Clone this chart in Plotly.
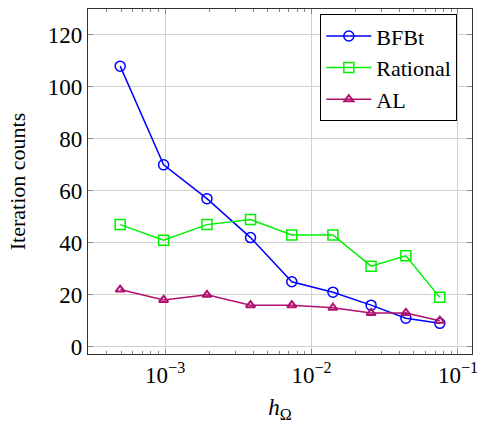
import plotly.graph_objects as go

h = [4.93e-4, 9.76e-4, 1.93e-3, 3.83e-3, 7.33e-3, 1.40e-2, 2.55e-2, 4.41e-2, 7.52e-2]
bfbt = [108, 70, 57, 42, 25, 21, 16, 11, 9]
rational = [47, 41, 47, 49, 43, 43, 31, 35, 19]
al = [22, 18, 20, 16, 16, 15, 13, 13, 10]

xtick_vals = [1e-3, 1e-2, 1e-1]
xtick_text = ["10<sup>−3</sup>", "10<sup>−2</sup>", "10<sup>−1</sup>"]
ytick_vals = [0, 20, 40, 60, 80, 100, 120]
ytick_text = [str(v) for v in ytick_vals]
minor_vals = [k * 10.0**e for e in (-4, -3, -2) for k in range(2, 10)]

FONT = "'Times New Roman', 'Liberation Serif', 'DejaVu Serif', serif"

fig = go.Figure()
fig.add_trace(go.Scatter(x=h, y=bfbt, name="BFBt", mode="lines+markers",
                         line=dict(color="#0000FF", width=1.5),
                         marker=dict(symbol="circle-open", size=10, color="#0000FF",
                                     line=dict(width=1.5, color="#0000FF"))))
fig.add_trace(go.Scatter(x=h, y=rational, name="Rational", mode="lines+markers",
                         line=dict(color="#00F000", width=1.5),
                         marker=dict(symbol="square-open", size=10, color="#00F000",
                                     line=dict(width=1.5, color="#00F000"))))
fig.add_trace(go.Scatter(x=h, y=al, name="AL", mode="lines+markers",
                         line=dict(color="#B0106E", width=1.5),
                         marker=dict(symbol="triangle-up-open", size=8, color="#B0106E",
                                     line=dict(width=2, color="#B0106E"))))

fig.update_layout(
    width=486, height=424,
    margin=dict(l=88, r=8, t=8, b=70),
    paper_bgcolor="white", plot_bgcolor="white",
    font=dict(family=FONT, size=21, color="black"),
    showlegend=True,
    legend=dict(x=0.605, y=0.985, xanchor="left", yanchor="top",
                bordercolor="black", borderwidth=1, bgcolor="white",
                font=dict(family=FONT, size=22, color="black"),
                tracegroupgap=0, itemwidth=45),
)
fig.update_xaxes(
    type="log", range=[-3.527, -0.904],
    tickvals=xtick_vals, ticktext=xtick_text,
    tickfont=dict(family=FONT, size=23, color="black"),
    ticks="inside", ticklen=5, tickcolor="#888",
    showgrid=True, gridcolor="#d0d0d0", gridwidth=1,
    showline=True, linecolor="#333", linewidth=1.3, mirror="ticks",
    minor=dict(ticks="inside", ticklen=3, tickcolor="#888", showgrid=False,
               tickvals=minor_vals),
    title=dict(text="<i>h</i><sub>Ω</sub>", standoff=12,
               font=dict(family=FONT, size=23, color="black")),
    zeroline=False,
)
fig.update_yaxes(
    range=[-2.8, 130], tickvals=ytick_vals, ticktext=ytick_text,
    tickfont=dict(family=FONT, size=23, color="black"),
    ticks="inside", ticklen=5, tickcolor="#888",
    showgrid=True, gridcolor="#d0d0d0", gridwidth=1,
    showline=True, linecolor="#333", linewidth=1.3, mirror="ticks",
    title=dict(text="Iteration counts", standoff=16,
               font=dict(family=FONT, size=22, color="black")),
    zeroline=False,
)

fig.write_html("out.html")
